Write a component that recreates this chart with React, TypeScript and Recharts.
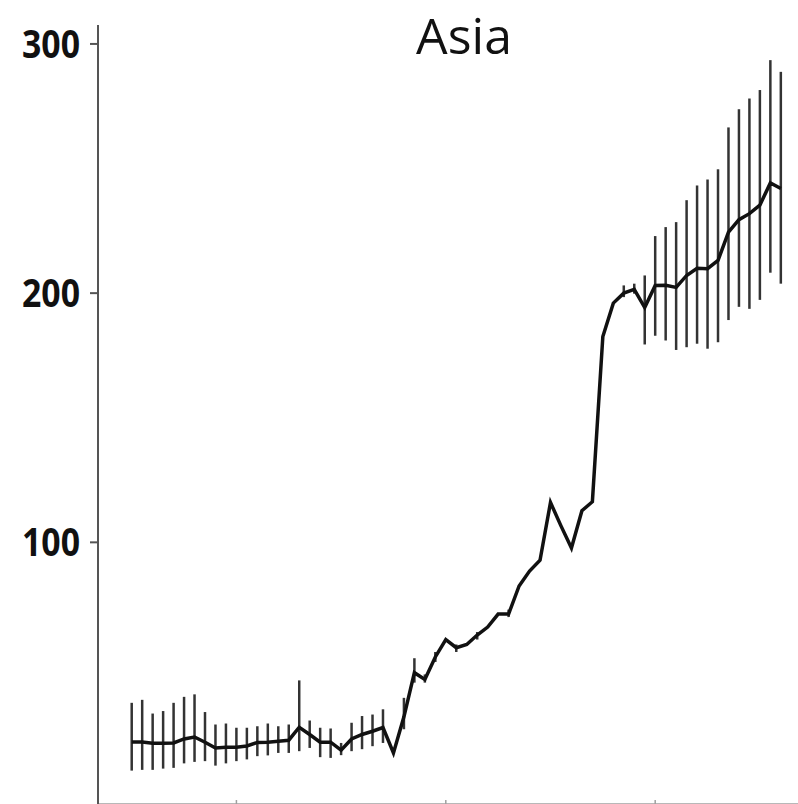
import { LineChart, Line, XAxis, YAxis, ErrorBar } from 'recharts';

const years = [
  1950, 1951, 1952, 1953, 1954, 1955, 1956, 1957, 1958, 1959,
  1960, 1961, 1962, 1963, 1964, 1965, 1966, 1967, 1968, 1969,
  1970, 1971, 1972, 1973, 1974, 1975, 1976, 1977, 1978, 1979,
  1980, 1981, 1982, 1983, 1984, 1985, 1986, 1987, 1988, 1989,
  1990, 1991, 1992, 1993, 1994, 1995, 1996, 1997, 1998, 1999,
  2000, 2001, 2002, 2003, 2004, 2005, 2006, 2007, 2008, 2009,
  2010, 2011, 2012,
];

const asia = [
  19.9, 19.9, 19.4, 19.4, 19.5, 21.1, 21.9, 19.8, 17.5, 17.8,
  17.8, 18.3, 19.7, 19.8, 20.2, 20.6, 25.8, 22.9, 19.8, 19.8,
  16.6, 21.1, 22.9, 24.2, 25.7, 15.5, 30, 47.7, 45, 54,
  61, 57.7, 59, 62.8, 66, 71.2, 71.2, 82.5, 88.5, 92.8,
  116, 106.6, 97.7, 112.7, 116.3, 182.6, 196, 200, 201.5, 194.2,
  203.1, 203.2, 202.3, 207.1, 210, 209.8, 213.1, 224.5, 229.5, 231.9,
  235.3, 244.2, 242,
];

// bounds of the vertical bars (null where the picture shows none)
const lower = [
  8.4, 8.7, 8.7, 9.2, 9.5, 11.3, 11.9, 12.2, 10.4, 11.3,
  12.2, 12.9, 14.2, 14.5, 15.5, 15.5, 16.2, 17.5, 13.8, 13.5,
  14.6, 16.2, 17, 18.2, 19.5, null, 25, 43.7, 43.7, 52,
  null, 56, null, 61, null, null, 70, null, null, null,
  null, null, null, null, null, null, null, 198.4, 199.8, 179.4,
  182.9, 181, 177.2, 178.3, 179.7, 177.7, 180.3, 189.2, 194.5, 193.7,
  197.3, 208.2, 203.8,
];

const upper = [
  35.6, 36.8, 31.3, 32.3, 35.6, 38, 39, 31.9, 26.9, 27.3,
  25.6, 25.6, 26.2, 27.3, 26.2, 26.9, 44.6, 28.5, 25.6, 25.3,
  19.5, 27.6, 30.3, 30.9, 33, null, 37.6, 53.5, 47, 56,
  null, 59, null, 64, null, null, 73, null, null, null,
  null, null, null, null, null, null, null, 203.1, 203.8, 207.1,
  222.9, 226.5, 228.5, 237.3, 243.2, 245.6, 249.7, 266.5, 273.8, 278.1,
  281.5, 293.5, 288.8,
];

const yTicks = [100, 200, 300];
const xTicks = [1960, 1980, 2000];

const data = years.map((year, i) => ({
  year,
  value: asia[i],
  err:
    lower[i] == null || upper[i] == null
      ? null
      : [asia[i] - (lower[i] as number), (upper[i] as number) - asia[i]],
}));

// narrow bold labels like the original
const YTick = (props: any) => {
  const { x, y, payload } = props;
  return (
    <text
      x={x}
      y={y}
      dy={14}
      textAnchor="end"
      fill="#111"
      fontSize={39}
      fontWeight="bold"
      fontFamily="'Open Sans', sans-serif"
      textLength={58}
      lengthAdjust="spacingAndGlyphs"
    >
      {payload.value}
    </text>
  );
};

export default function App() {
  return (
    <div style={{ position: 'absolute', left: 0, top: 0, width: 798, height: 804, background: '#fff' }}>
      <div
        style={{
          position: 'absolute',
          left: 0,
          width: 928,
          top: 3,
          textAlign: 'center',
          fontFamily: 'Open Sans, sans-serif',
          fontSize: 50,
          fontWeight: 500,
          lineHeight: '64px',
          color: '#111',
          zIndex: 2,
        }}
      >
        Asia
      </div>
      <LineChart width={798} height={804} data={data} margin={{ top: 25, right: 0, bottom: 0, left: 0 }}>
        <XAxis
          dataKey="year"
          type="number"
          domain={[1946.78, 2013.64]}
          allowDataOverflow
          ticks={xTicks}
          tickFormatter={() => ''}
          height={1}
          mirror
          tickSize={4}
          stroke="#a0a0a0"
          strokeWidth={1.5}
        />
        <YAxis
          type="number"
          domain={[-5, 307.6]}
          allowDataOverflow
          ticks={yTicks}
          width={98}
          tickSize={8}
          tickMargin={10}
          stroke="#555"
          strokeWidth={2}
          tick={<YTick />}
        />
        <Line
          dataKey="value"
          stroke="#111"
          strokeWidth={3.5}
          dot={false}
          isAnimationActive={false}
        >
          <ErrorBar dataKey="err" width={0} stroke="#333" strokeWidth={2.5} direction="y" />
        </Line>
      </LineChart>
    </div>
  );
}
